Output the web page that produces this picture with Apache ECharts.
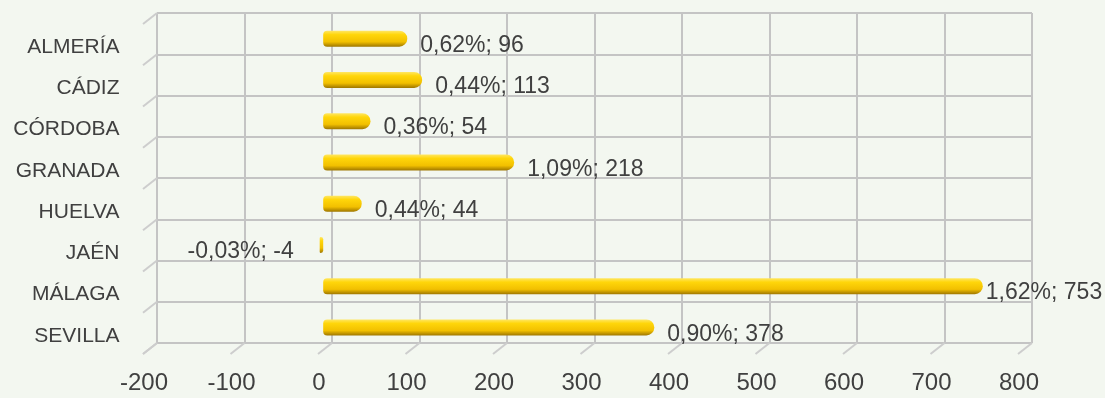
<!DOCTYPE html>
<html>
<head>
<meta charset="utf-8">
<script src="https://cdn.jsdelivr.net/npm/echarts@6/dist/echarts.min.js"></script>
<style>
html,body{margin:0;padding:0;background:#f3f7f0;}
#c{width:1105px;height:398px;}
</style>
</head>
<body>
<div id="c"></div>
<script>
const categories = ['ALMERÍA','CÁDIZ','CÓRDOBA','GRANADA','HUELVA','JAÉN','MÁLAGA','SEVILLA'];
const values = [96, 113, 54, 218, 44, -4, 753, 378];
const percents = ['0,62%','0,44%','0,36%','1,09%','0,44%','-0,03%','1,62%','0,90%'];
const xTicks = [-200,-100,0,100,200,300,400,500,600,700,800];

const TEXT = '#404040';
const GRID = '#c4c4c4';
const NARROW = 'Liberation Sans Narrow, Arial Narrow, sans-serif';
const xMin = xTicks[0], xMax = xTicks[xTicks.length-1], xInt = 100;

const barGradient = new echarts.graphic.LinearGradient(0,0,0,1,[
  {offset:0, color:'#ffe766'},
  {offset:0.25, color:'#ffd60a'},
  {offset:0.7, color:'#f2c000'},
  {offset:1, color:'#a07800'}
]);

const barData = values.map((v,i)=>{
  const item = {value:v, label:{}};
  if (v < 0) { item.label.position = 'left'; item.label.distance = 26; }
  if (v === Math.max(...values)) { item.label.distance = 3; }
  return item;
});

const chart = echarts.init(document.getElementById('c'), null, {renderer:'canvas'});
chart.setOption({
  backgroundColor:'#f3f7f0',
  animation:false,
  grid:[
    {left:157, top:13, width:875, height:330},
    {left:148, top:18, width:876, height:330},
    {left:144, top:26.5, width:875, height:330}
  ],
  xAxis:[
    {gridIndex:0, type:'value', min:xMin, max:xMax, interval:xInt,
      axisLine:{show:false}, axisTick:{show:false}, axisLabel:{show:false},
      splitLine:{show:true, lineStyle:{color:GRID, width:2}}},
    {gridIndex:1, type:'value', min:xMin, max:xMax, interval:xInt, show:false},
    {gridIndex:2, type:'value', min:xMin, max:xMax, interval:xInt,
      axisLine:{show:false}, axisTick:{show:false}, splitLine:{show:false},
      axisLabel:{show:true, color:TEXT, fontSize:24, fontFamily:NARROW, margin:15}}
  ],
  yAxis:[
    {gridIndex:0, type:'category', data:categories, inverse:true,
      axisLine:{show:false}, axisTick:{show:false}, axisLabel:{show:false},
      splitLine:{show:true, lineStyle:{color:GRID, width:2}}},
    {gridIndex:1, type:'category', data:categories, inverse:true, show:false},
    {gridIndex:2, type:'category', data:categories, inverse:true,
      axisLine:{show:false}, axisTick:{show:false}, splitLine:{show:false},
      axisLabel:{show:true, color:TEXT, fontSize:21, fontFamily:'Liberation Sans', margin:24.5}}
  ],
  series:[
    {
      type:'custom', xAxisIndex:0, yAxisIndex:0, silent:true, z:1,
      data: xTicks.map(v=>[v, categories[0]]),
      renderItem:function(params, api){
        const cs = params.coordSys;
        const x = api.coord([api.value(0), categories[0]])[0];
        const yb = cs.y + cs.height;
        return {type:'line', shape:{x1:x, y1:yb, x2:x-14, y2:yb+11},
          style:{stroke:'#cdcdcd', lineWidth:2}};
      }
    },
    {
      type:'custom', xAxisIndex:0, yAxisIndex:0, silent:true, z:1,
      data: categories.concat(['']).map((c,i)=>[xMin, i]),
      renderItem:function(params, api){
        const cs = params.coordSys;
        const i = api.value(1);
        const y = cs.y + cs.height * i / categories.length;
        return {type:'line', shape:{x1:cs.x, y1:y, x2:cs.x-14, y2:y+11},
          style:{stroke:'#cdcdcd', lineWidth:2}};
      }
    },
    {
      type:'bar', xAxisIndex:1, yAxisIndex:1, z:3,
      data: barData,
      barWidth:16,
      itemStyle:{color:barGradient, borderRadius:[4,8,8,4]},
      label:{show:true, position:'right', distance:13, offset:[0,7],
        color:TEXT, fontSize:23, fontFamily:NARROW,
        formatter:function(p){ return percents[p.dataIndex] + '; ' + values[p.dataIndex]; }}
    }
  ]
});
</script>
</body>
</html>
